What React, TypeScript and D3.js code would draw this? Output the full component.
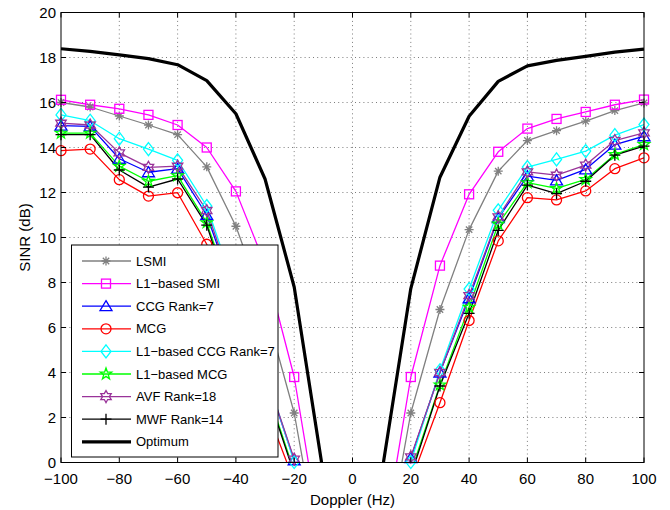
import React from "react";
import * as d3 from "d3";

const doppler = [-100, -90, -80, -70, -60, -50, -40, -30, -20, -10, 0, 10, 20, 30, 40, 50, 60, 70, 80, 90, 100];

const lsmi = [16.0, 15.8, 15.4, 15.0, 14.57, 13.14, 10.5, 6.9, 2.2, -5, null, -5, 2.2, 6.8, 10.35, 12.95, 14.31, 14.75, 15.17, 15.64, 15.98];
const l1Smi = [16.12, 15.9, 15.72, 15.45, 15.0, 14.0, 12.05, 8.8, 3.8, -4, null, -4, 3.8, 8.75, 11.92, 13.81, 14.84, 15.27, 15.58, 15.9, 16.13];
const ccg = [14.97, 14.94, 13.5, 12.9, 13.06, 11.0, 7.3, 3.95, 0.1, -8, null, -8, 0.2, 4.0, 7.3, 10.86, 12.73, 12.54, 13.03, 14.13, 14.5];
const mcg = [13.86, 13.93, 12.57, 11.84, 11.99, 9.7, 6.3, 2.55, -0.85, -8, null, -8, -0.85, 2.66, 6.31, 9.85, 11.77, 11.67, 12.07, 13.06, 13.54];
const l1Ccg = [15.45, 15.19, 14.39, 13.93, 13.43, 11.4, 7.6, 4.1, 0.02, -8, null, -8, 0.02, 4.1, 7.71, 11.21, 13.13, 13.47, 13.84, 14.55, 15.02];
const l1Mcg = [14.64, 14.64, 13.17, 12.5, 12.75, 10.66, 6.9, 3.5, -0.4, -8, null, -8, -0.45, 3.45, 6.9, 10.6, 12.44, 12.18, 12.58, 13.69, 14.13];
const avf = [15.08, 15.0, 13.76, 13.12, 13.17, 11.2, 7.4, 4.0, 0.15, -8, null, -8, 0.25, 4.0, 7.42, 10.92, 12.92, 12.77, 13.22, 14.31, 14.65];
const mwf = [14.57, 14.57, 13.0, 12.24, 12.6, 10.55, 6.6, 3.4, -0.5, -8, null, -8, -0.6, 3.4, 6.63, 10.32, 12.33, 11.95, 12.5, 13.66, 14.06];
const optimum = [18.39, 18.27, 18.12, 17.95, 17.68, 16.97, 15.5, 12.6, 7.8, -0.5, null, -0.5, 7.73, 12.68, 15.39, 16.94, 17.63, 17.87, 18.05, 18.24, 18.37];

const seriesNames = ["LSMI", "L1\u2212based SMI", "CCG Rank=7", "MCG", "L1\u2212based CCG Rank=7", "L1\u2212based MCG", "AVF Rank=18", "MWF Rank=14", "Optimum"];
const seriesValues = [lsmi, l1Smi, ccg, mcg, l1Ccg, l1Mcg, avf, mwf, optimum];
const seriesColors = ["#808080", "#ff00ff", "#0000ff", "#ff0000", "#00ffff", "#00ff00", "#993399", "#000000", "#000000"];
const seriesMarkers = ["asterisk", "square", "triangle", "circle", "diamond", "pentagram", "hexagram", "plus", "none"];

const xTicks = [-100, -80, -60, -40, -20, 0, 20, 40, 60, 80, 100];
const yTicks = [0, 2, 4, 6, 8, 10, 12, 14, 16, 18, 20];

const W = 670, H = 510;
const L = 61, R = 644, T = 12.5, B = 462.5;
const FONT = "'Liberation Sans', Arial, Helvetica, sans-serif";

function starPath(n: number, ro: number, ri: number) {
  const pts: string[] = [];
  for (let i = 0; i < 2 * n; i++) {
    const r = i % 2 === 0 ? ro : ri;
    const a = -Math.PI / 2 + (i * Math.PI) / n;
    pts.push(`${(r * Math.cos(a)).toFixed(2)},${(r * Math.sin(a)).toFixed(2)}`);
  }
  return "M" + pts.join("L") + "Z";
}

function Marker({ type, x, y, color }: { type: string; x: number; y: number; color: string }) {
  const common = { fill: "none", stroke: color, strokeWidth: 1.3 };
  const tr = `translate(${x},${y})`;
  switch (type) {
    case "asterisk":
      return (
        <path transform={tr} {...common} d="M-4.5,0L4.5,0M0,-4.5L0,4.5M-3.2,-3.2L3.2,3.2M-3.2,3.2L3.2,-3.2" />
      );
    case "square":
      return <rect transform={tr} {...common} x={-4.5} y={-4.5} width={9} height={9} />;
    case "triangle":
      return <path transform={tr} {...common} d="M0,-5.5L6,4.5L-6,4.5Z" />;
    case "circle":
      return <circle transform={tr} {...common} r={5} />;
    case "diamond":
      return <path transform={tr} {...common} d="M0,-6.5L5,0L0,6.5L-5,0Z" />;
    case "pentagram":
      return <path transform={tr} {...common} d={starPath(5, 6, 2.4)} />;
    case "hexagram":
      return <path transform={tr} {...common} d={starPath(6, 6, 3.4)} />;
    case "plus":
      return <path transform={tr} {...common} d="M-5.5,0L5.5,0M0,-5.5L0,5.5" />;
    default:
      return null;
  }
}

export default function App() {
  const x = d3.scaleLinear().domain([-100, 100]).range([L, R]);
  const y = d3.scaleLinear().domain([0, 20]).range([B, T]);

  const line = d3
    .line<[number, number | null]>()
    .defined((d) => d[1] !== null)
    .x((d) => x(d[0]))
    .y((d) => y(d[1] as number));

  const legX = 71.5, legY = 245, legW = 206.5, legH = 212;
  const rowY = (i: number) => 261 + i * 22.6;

  return (
    <svg width={W} height={H} style={{ position: "absolute", left: 0, top: 0, background: "#fff" }} fontFamily={FONT}>
      <defs>
        <clipPath id="plotclip">
          <rect x={L} y={T} width={R - L} height={B - T} />
        </clipPath>
      </defs>
      <rect x={0} y={0} width={W} height={H} fill="#fff" />
      {/* grid */}
      <g stroke="#444" strokeWidth={0.7} strokeDasharray="1,3.2">
        {xTicks.slice(1, -1).map((t) => (
          <line key={"gx" + t} x1={x(t)} x2={x(t)} y1={T} y2={B} />
        ))}
        {yTicks.slice(1, -1).map((t) => (
          <line key={"gy" + t} x1={L} x2={R} y1={y(t)} y2={y(t)} />
        ))}
      </g>
      {/* series lines */}
      <g clipPath="url(#plotclip)">
        {seriesValues.map((vals, i) => (
          <path
            key={"l" + i}
            d={line(doppler.map((d, j) => [d, vals[j]] as [number, number | null])) || ""}
            fill="none"
            stroke={seriesColors[i]}
            strokeWidth={i === 8 ? 3.2 : 1.3}
            strokeLinejoin="round"
          />
        ))}
      </g>
      {/* markers */}
      {seriesValues.map((vals, i) => (
        <g key={"m" + i}>
          {doppler.map((d, j) => {
            const v = vals[j];
            if (v === null || v < 0 || v > 20) return null;
            return <Marker key={j} type={seriesMarkers[i]} x={x(d)} y={y(v)} color={seriesColors[i]} />;
          })}
        </g>
      ))}
      {/* axes box */}
      <rect x={L} y={T} width={R - L} height={B - T} fill="none" stroke="#000" strokeWidth={1} />
      {/* ticks */}
      <g stroke="#000" strokeWidth={1}>
        {xTicks.map((t) => (
          <g key={"tx" + t}>
            <line x1={x(t)} x2={x(t)} y1={B} y2={B - 5} />
            <line x1={x(t)} x2={x(t)} y1={T} y2={T + 5} />
          </g>
        ))}
        {yTicks.map((t) => (
          <g key={"ty" + t}>
            <line x1={L} x2={L + 5} y1={y(t)} y2={y(t)} />
            <line x1={R} x2={R - 5} y1={y(t)} y2={y(t)} />
          </g>
        ))}
      </g>
      {/* tick labels */}
      <g fontSize={15} fill="#000">
        {xTicks.map((t) => (
          <text key={"lx" + t} x={x(t)} y={484} textAnchor="middle">
            {t < 0 ? "\u2212" + Math.abs(t) : String(t)}
          </text>
        ))}
        {yTicks.map((t) => (
          <text key={"ly" + t} x={56} y={y(t) + 5} textAnchor="end">
            {t}
          </text>
        ))}
      </g>
      <text x={(L + R) / 2} y={505} textAnchor="middle" fontSize={15}>
        Doppler (Hz)
      </text>
      <text transform={`translate(30,${y(10)}) rotate(-90)`} textAnchor="middle" fontSize={15}>
        SINR (dB)
      </text>
      {/* legend */}
      <rect x={legX} y={legY} width={legW} height={legH} fill="#fff" stroke="#000" strokeWidth={1} />
      {seriesNames.map((name, i) => (
        <g key={"leg" + i}>
          <line
            x1={82}
            x2={131}
            y1={rowY(i)}
            y2={rowY(i)}
            stroke={seriesColors[i]}
            strokeWidth={i === 8 ? 3.2 : 1.3}
          />
          <Marker type={seriesMarkers[i]} x={106} y={rowY(i)} color={seriesColors[i]} />
          <text x={136} y={rowY(i) + 4.5} fontSize={13}>
            {name}
          </text>
        </g>
      ))}
    </svg>
  );
}
